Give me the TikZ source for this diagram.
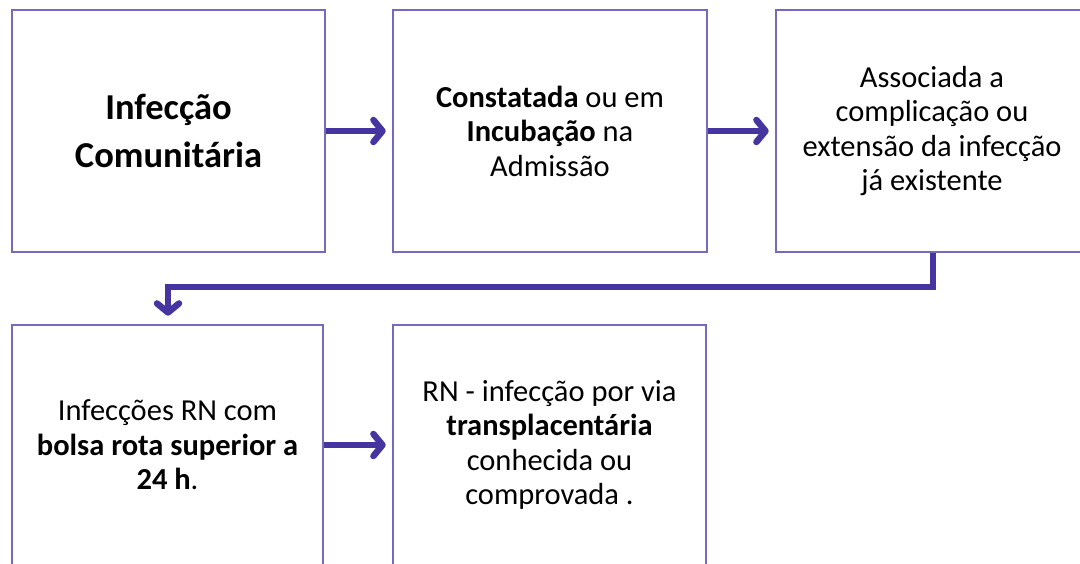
\documentclass[tikz,border=0pt]{standalone}
\usepackage{fontspec}
\setmainfont{Carlito}
\usetikzlibrary{arrows.meta,shadows}
\definecolor{boxc}{RGB}{120,104,190}
\definecolor{arrc}{RGB}{70,52,160}
\begin{document}
\begin{tikzpicture}[x=1pt,y=1pt,
  box/.style={draw=boxc, line width=2.6pt, fill=white, rectangle, inner sep=0pt,
    drop shadow={shadow xshift=1.4pt, shadow yshift=-1.4pt, fill=black!45, opacity=0.8}},
  txt/.style={align=center, font=\fontsize{30.5}{34.5}\selectfont, inner sep=0pt},
  flow/.style={draw=arrc, line width=6.5pt, -{Straight Barb[length=9pt,width=22pt,line cap=round,line join=round]}}
]
\useasboundingbox (0,0) rectangle (1080,-563);
\node[box, minimum width=313pt, minimum height=242pt] (b1) at (168.5,-131) {};
\node[box, minimum width=314pt, minimum height=242pt] (b2) at (550,-131) {};
\node[box, minimum width=312pt, minimum height=242pt] (b3) at (932,-131) {};
\node[box, minimum width=311pt, minimum height=240pt] (b4) at (167.5,-445) {};
\node[box, minimum width=313pt, minimum height=240pt] (b5) at (549.5,-445) {};

\node[txt, font=\fontsize{36.5}{48}\selectfont\bfseries] (t1) at (b1.center) {Infecção\\Comunitária};
\node[txt] (t2) at (b2.center) {\textbf{Constatada} ou em\\\textbf{Incubação} na\\Admissão};
\node[txt] (t3) at (b3.center) {Associada a\\complicação ou\\extensão da infecção\\já existente};
\node[txt] (t4) at (b4.center) {Infecções RN com\\\textbf{bolsa rota superior a}\\\textbf{24 h}.};
\node[txt] (t5) at (b5.center) {RN - infecção por via\\\textbf{transplacentária}\\conhecida ou\\comprovada .};

\draw[flow, shorten >=6pt] (b1.east) -- (b2.west);
\draw[flow, shorten >=6pt] (b2.east) -- (b3.west);
\coordinate (c1) at (933,-287);
\coordinate (c2) at (168,-287);
\draw[flow, shorten >=8pt, line join=miter] (b3.south -| c1) -- (c1) -- (c2) -- (b4.north -| c2);
\draw[flow, shorten >=6pt] (b4.east |- 0,-445) -- (b5.west |- 0,-445);
\end{tikzpicture}
\end{document}
